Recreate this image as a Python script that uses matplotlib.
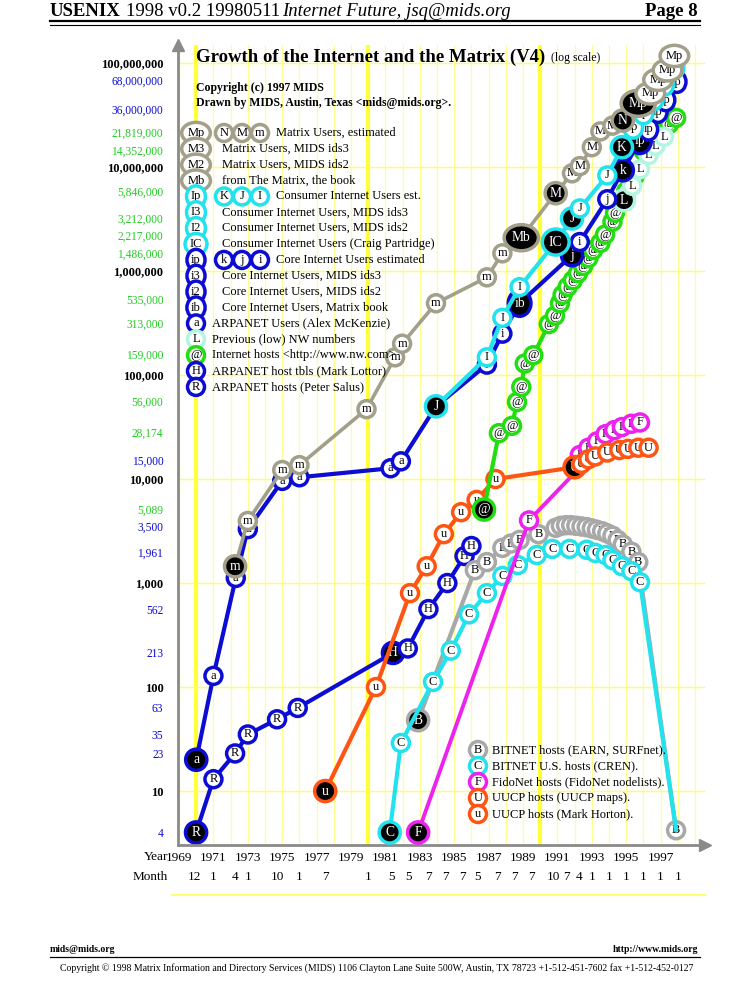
import matplotlib
matplotlib.use("Agg")
import matplotlib.pyplot as plt
from matplotlib.lines import Line2D
from matplotlib.ticker import NullLocator

plt.rcParams["font.family"] = ["Liberation Serif", "DejaVu Serif"]

# ---- data (year as decimal, value) ----
# ARPANET hosts: Peter Salus (R) then Mark Lottor host tables (H)
arpa_year = [1969.99, 1971.0, 1972.26, 1973.0, 1974.7, 1975.9, 1981.44, 1982.3, 1983.5, 1984.6, 1985.6, 1986.0]
arpa_val = [4, 13, 23, 35, 49, 63, 213, 235, 562, 1000, 1820, 2270]
arpa_tag = ["R", "R", "R", "R", "R", "R", "H", "H", "H", "H", "H", "H"]
arpa_black = [1, 0, 0, 0, 0, 0, 1, 0, 0, 0, 0, 0]

# BITNET hosts (EARN, SURFnet)
bit_year = [1982.9, 1986.2, 1986.9, 1987.8, 1988.3, 1988.8, 1989.9, 1990.9, 1991.2, 1991.5, 1991.8,
            1992.1, 1992.4, 1992.7, 1993.0, 1993.3, 1993.6, 1993.9, 1994.2, 1994.5, 1994.8, 1995.3,
            1995.7, 1997.9]
bit_val = [48, 1330, 1590, 2180, 2400, 2600, 2950, 3400, 3550, 3600, 3600, 3550, 3500, 3450, 3350,
           3250, 3150, 3000, 2850, 2600, 2350, 2000, 1590, 4.2]
bit_tag = ["B"] * 24
bit_black = [1] + [0] * 23

# BITNET U.S. hosts (CREN)
cren_year = [1981.25, 1981.9, 1983.77, 1984.8, 1985.86, 1986.9, 1987.8, 1988.7, 1989.8, 1990.7,
             1991.7, 1992.7, 1993.2, 1993.8, 1994.2, 1994.75, 1995.3, 1995.8, 1997.9]
cren_val = [4, 29, 112, 224, 500, 800, 1170, 1490, 1860, 2130, 2130, 2090, 1950, 1860, 1660, 1450,
            1300, 1020, 4.2]
cren_tag = ["C"] * 18 + [""]
cren_black = [1] + [0] * 18

# FidoNet hosts
fido_year = [1982.9, 1989.35, 1991.9, 1992.3, 1992.8, 1993.3, 1993.8, 1994.3, 1994.75, 1995.3, 1995.8]
fido_val = [4, 4000, 11000, 17000, 20000, 23000, 27000, 29500, 31600, 34000, 35000]
fido_tag = ["F", "F", "", "F", "F", "F", "F", "F", "F", "F", "F"]
fido_black = [1, 0, 0, 0, 0, 0, 0, 0, 0, 0, 0]

# UUCP hosts: Mark Horton (u) then UUCP maps (U)
uucp_year = [1977.5, 1980.45, 1982.43, 1983.4, 1984.4, 1985.4, 1986.3, 1987.4, 1992.0, 1992.4,
             1992.8, 1993.2, 1993.9, 1994.6, 1995.1, 1995.7, 1996.3]
uucp_val = [10, 100, 800, 1450, 2950, 4800, 6300, 10000, 13000, 14000, 15500, 16500, 18000, 19000,
            19500, 20000, 20000]
uucp_tag = ["u"] * 8 + ["U"] * 9
uucp_black = [1, 0, 0, 0, 0, 0, 0, 0, 1, 0, 0, 0, 0, 0, 0, 0, 0]

# Internet hosts (nw.com)
host_year = [1986.73, 1987.6, 1988.36, 1988.65, 1988.9, 1989.1, 1989.6, 1990.5, 1990.86, 1991.15,
             1991.3, 1991.6, 1991.9, 1992.2, 1992.5, 1992.8, 1993.07, 1993.5, 1993.77, 1994.2,
             1994.35, 1995.0, 1995.5, 1996.0, 1996.5, 1997.0, 1997.5, 1997.9]
host_val = [5089, 27600, 32500, 55000, 76700, 129000, 155000, 309000, 372000, 490000, 590000, 705000,
            815000, 955000, 1120000, 1330000, 1590000, 1860000, 2240000, 2980000, 3630000, 5846000,
            8200000, 14352000, 16700000, 21819000, 26000000, 29700000]
host_tag = ["@"] * 28
host_black = [1] + [0] * 27

# Previous (low) NW numbers
low_year = [1994.87, 1995.35, 1995.8, 1996.3, 1996.7, 1997.2]
low_val = [4800000, 6600000, 9500000, 13000000, 16000000, 19500000]
low_tag = ["L"] * 6
low_black = [1, 0, 0, 0, 0, 0]

# ARPANET users (a) then Core Internet users (i, ib, j, k, ip)
core_year = [1970.0, 1971.0, 1972.3, 1973.0, 1975.0, 1976.0, 1981.3, 1981.9, 1983.94, 1986.9, 1987.8,
             1988.8, 1991.85, 1992.3, 1993.9, 1994.8, 1995.8, 1996.3, 1996.85, 1997.3, 1997.95]
core_val = [20, 128, 1120, 3300, 9600, 10400, 12700, 14800, 50000, 126000, 250000, 490000, 1420000,
            1900000, 4900000, 9300000, 18000000, 23000000, 34000000, 44000000, 66000000]
core_tag = ["a", "a", "a", "a", "a", "a", "a", "a", "", "i", "i", "ib", "j", "i", "j", "k", "ip", "ip",
            "ip", "ip", "ip"]
core_black = [1, 0, 0, 0, 0, 0, 0, 0, 0, 0, 0, 1, 1, 0, 0, 1, 1, 0, 0, 0, 0]

# Consumer Internet users
cons_year = [1983.94, 1986.9, 1987.8, 1988.8, 1990.9, 1991.85, 1992.3, 1993.9, 1994.75, 1995.4, 1996.0,
             1996.6, 1997.2, 1997.8]
cons_val = [50000, 148000, 355000, 700000, 1900000, 3200000, 4000000, 8300000, 15500000, 24000000,
            33000000, 45000000, 62000000, 90000000]
cons_tag = ["J", "I", "I", "I", "IC", "J", "J", "J", "K", "Ip", "Ip", "Ip", "Ip", "Ip"]
cons_black = [1, 0, 0, 0, 1, 1, 0, 0, 1, 0, 0, 0, 0, 0]

# Matrix users
mat_year = [1972.26, 1973.0, 1975.0, 1976.0, 1979.9, 1981.56, 1981.97, 1983.94, 1986.9, 1987.8, 1988.9,
            1990.9, 1991.85, 1992.3, 1993.0, 1993.5, 1994.2, 1994.8, 1995.7, 1996.4, 1996.85, 1997.4,
            1997.8]
mat_val = [1450, 3950, 12200, 13600, 47000, 148000, 200000, 490000, 870000, 1480000, 2090000, 5600000,
           8700000, 10200000, 15500000, 22000000, 25000000, 28000000, 41000000, 51000000, 69000000,
           85000000, 117000000]
mat_tag = ["m"] * 10 + ["Mb", "M", "M", "M", "M", "M", "M", "N", "Mp", "Mp", "Mp", "Mp", "Mp"]
mat_black = [1, 0, 0, 0, 0, 0, 0, 0, 0, 0, 1, 1, 0, 0, 0, 0, 0, 1, 1, 0, 0, 0, 0]

# axis labels
ytick_vals = [1e8, 68000000, 36000000, 21819000, 14352000, 1e7, 5846000, 3212000, 2217000, 1486000,
              1e6, 535000, 313000, 159000, 1e5, 56000, 28174, 15000, 1e4, 5089, 3500, 1961, 1000, 562,
              213, 100, 63, 35, 23, 10, 4]
ytick_kind = ["d", "b", "b", "g", "g", "d", "g", "g", "g", "g", "d", "g", "g", "g", "d", "g", "g", "b",
              "d", "g", "b", "b", "d", "b", "b", "d", "b", "b", "b", "d", "b"]
year_ticks = list(range(1969, 1998, 2))
month_pos = [1969.92, 1971.0, 1972.25, 1973.0, 1974.75, 1976.0, 1977.5, 1980.0, 1981.33, 1982.33,
             1983.5, 1984.5, 1985.5, 1986.33, 1987.5, 1988.5, 1989.5, 1990.75, 1991.5, 1992.25,
             1993.0, 1994.0, 1995.0, 1996.0, 1997.0, 1998.0]
month_text = ["12", "1", "4", "1", "10", "1", "7", "1", "5", "5", "7", "7", "7", "5", "7", "7", "7",
              "10", "7", "4", "1", "1", "1", "1", "1", "1"]

GRAYM = "#a29f8a"
CYAN = "#22e2ee"
BLUE = "#0c0cd2"
GREEN = "#22dd11"
PALE = "#b4f5e2"
BGRAY = "#a8a8a8"
MAGENTA = "#ee22ee"
ORANGE = "#ff5514"

top_legend = [
    (["Mp", "N", "M", "m"], GRAYM, "Matrix Users, estimated"),
    (["M3"], GRAYM, "Matrix Users, MIDS ids3"),
    (["M2"], GRAYM, "Matrix Users, MIDS ids2"),
    (["Mb"], GRAYM, "from The Matrix, the book"),
    (["Ip", "K", "J", "I"], CYAN, "Consumer Internet Users est."),
    (["I3"], CYAN, "Consumer Internet Users, MIDS ids3"),
    (["I2"], CYAN, "Consumer Internet Users, MIDS ids2"),
    (["IC"], CYAN, "Consumer Internet Users (Craig Partridge)"),
    (["ip", "k", "j", "i"], BLUE, "Core Internet Users estimated"),
    (["i3"], BLUE, "Core Internet Users, MIDS ids3"),
    (["i2"], BLUE, "Core Internet Users, MIDS ids2"),
    (["ib"], BLUE, "Core Internet Users, Matrix book"),
    (["a"], BLUE, "ARPANET Users (Alex McKenzie)"),
    (["L"], PALE, "Previous (low) NW numbers"),
    (["@"], GREEN, "Internet hosts <http://www.nw.com>"),
    (["H"], BLUE, "ARPANET host tbls (Mark Lottor)"),
    (["R"], BLUE, "ARPANET hosts (Peter Salus)"),
]
bottom_legend = [
    ("B", BGRAY, "BITNET hosts (EARN, SURFnet)."),
    ("C", CYAN, "BITNET U.S. hosts (CREN)."),
    ("F", MAGENTA, "FidoNet hosts (FidoNet nodelists)."),
    ("U", ORANGE, "UUCP hosts (UUCP maps)."),
    ("u", ORANGE, "UUCP hosts (Mark Horton)."),
]

W, H = 750, 1000
fig = plt.figure(figsize=(7.5, 10), dpi=100)
fig.patch.set_facecolor("white")


def fx(px):
    return px / W


def fy(py):
    return 1 - py / H


ax = fig.add_axes([fx(178), fy(845), (705 - 178) / W, (845 - 45) / H])
ax.set_yscale("log")
ax.set_xlim(1968.94, 1999.58)
ax.set_ylim(3.03, 1.49e8)


def badge(x, y, s, color, black=False, z=5, tr=None, fs=9):
    if not s:
        return
    if black:
        style = "circle,pad=0.3" if len(s) == 1 else "ellipse,pad=0.2"
    else:
        style = "circle,pad=0.2" if len(s) == 1 else "ellipse,pad=0.12"
    ax.text(x, y, s, transform=tr if tr is not None else ax.transData, ha="center", va="center",
            fontsize=fs + (0.8 if black else 0), color="white" if black else "black", zorder=z,
            clip_on=False,
            bbox=dict(boxstyle=style, fc="black" if black else "white", ec=color, lw=2.5))


# grid
for yr in range(1969, 2000):
    if yr % 10 == 0:
        ax.axvline(yr, color="#ffff3a", lw=3, zorder=0)
    else:
        ax.axvline(yr, color="#ffff90", lw=0.9, zorder=0)
for k in range(1, 9):
    ax.axhline(10 ** k, color="#ffff60", lw=1, zorder=0)

for s in ["top", "right"]:
    ax.spines[s].set_visible(False)
for s in ["left", "bottom"]:
    ax.spines[s].set_color("#8a8a8a")
    ax.spines[s].set_linewidth(2)
ax.plot([0], [1.0], marker="^", ms=9, color="#8a8a8a", transform=ax.transAxes, clip_on=False)
ax.plot([1.0], [0], marker=">", ms=9, color="#8a8a8a", transform=ax.transAxes, clip_on=False)

# series
series = [
    (arpa_year, arpa_val, arpa_tag, arpa_black, BLUE, 3.0),
    (bit_year, bit_val, bit_tag, bit_black, BGRAY, 3.0),
    (cren_year, cren_val, cren_tag, cren_black, CYAN, 3.0),
    (fido_year, fido_val, fido_tag, fido_black, MAGENTA, 2.8),
    (uucp_year, uucp_val, uucp_tag, uucp_black, ORANGE, 3.0),
    (host_year, host_val, host_tag, host_black, GREEN, 3.0),
    (low_year, low_val, low_tag, low_black, PALE, 2.5),
    (core_year, core_val, core_tag, core_black, BLUE, 3.0),
    (cons_year, cons_val, cons_tag, cons_black, CYAN, 3.0),
    (mat_year, mat_val, mat_tag, mat_black, GRAYM, 2.6),
]
for i, (xs, ys, tags, blk, col, lw) in enumerate(series):
    ax.plot(xs, ys, color=col, lw=lw, zorder=2 + i, solid_capstyle="round")
    for x, y, t, b in zip(xs, ys, tags, blk):
        badge(x, y, t, col, black=bool(b), z=2.5 + i)

# ticks
ax.set_yticks(ytick_vals, labels=[f"{v:,.0f}" for v in ytick_vals])
ax.yaxis.set_minor_locator(NullLocator())
ax.tick_params(axis="y", length=0, pad=10.5)
for lab, kind in zip(ax.get_yticklabels(), ytick_kind):
    if kind == "d":
        lab.set_fontweight("bold")
        lab.set_fontsize(9)
        lab.set_color("black")
    else:
        lab.set_fontsize(8.3)
        lab.set_color(BLUE if kind == "b" else "#22cc22")

ax.set_xticks(year_ticks, labels=[str(y) for y in year_ticks])
ax.xaxis.set_minor_locator(NullLocator())
ax.tick_params(axis="x", length=0, pad=5, labelsize=9.5)
for mx, mt in zip(month_pos, month_text):
    ax.text(mx, -0.04, mt, transform=ax.get_xaxis_transform(), ha="center", va="center", fontsize=9.5)
fig.text(fx(168), fy(857), "Year", ha="right", va="center", fontsize=9.5)
fig.text(fx(168), fy(877), "Month", ha="right", va="center", fontsize=9.5)
fig.add_artist(Line2D([fx(172), fx(705)], [fy(895), fy(895)], color="#ffff70", lw=1.5))

# title block
rend = fig.canvas.get_renderer()
t = fig.text(fx(196), fy(57), "Growth of the Internet and the Matrix (V4)", fontsize=13.5,
             fontweight="bold", va="center")
x1 = t.get_window_extent(rend).x1
fig.text(fx(x1 + 6), fy(58), "(log scale)", fontsize=8.5, va="center")
fig.text(fx(196), fy(88), "Copyright (c) 1997 MIDS", fontsize=8.5, fontweight="bold", va="center")
fig.text(fx(196), fy(103), "Drawn by MIDS, Austin, Texas <mids@mids.org>.", fontsize=8.5,
         fontweight="bold", va="center")

# legends
for i, (tags, col, txt) in enumerate(top_legend):
    y = 133 + i * 15.87
    base = 196 + 10 * (len(tags[0]) - 1)
    for j, tg in enumerate(tags):
        bx = 196 if j == 0 else base + 18 * j
        badge(fx(bx), fy(y), tg, col, tr=fig.transFigure, z=40, fs=9)
    tx = base + 18 * (len(tags) - 1) + 16
    fig.text(fx(tx), fy(y), txt, fontsize=9, va="center", zorder=41)
for i, (tg, col, txt) in enumerate(bottom_legend):
    y = 750 + i * 16
    badge(fx(478), fy(y), tg, col, tr=fig.transFigure, z=40, fs=9)
    fig.text(fx(492), fy(y), txt, fontsize=9, va="center", zorder=41)

# page header
t1 = fig.text(fx(50), fy(11), "USENIX", fontsize=13.5, fontweight="bold", va="center")
x1 = t1.get_window_extent(rend).x1
t2 = fig.text(fx(x1 + 5), fy(11), "1998 v0.2 19980511", fontsize=13.5, va="center")
x1 = t2.get_window_extent(rend).x1
fig.text(fx(x1 + 2), fy(11), "Internet Future, jsq@mids.org", fontsize=13.5, fontstyle="italic",
         va="center")
fig.text(fx(698), fy(11), "Page 8", fontsize=13.5, fontweight="bold", va="center", ha="right")
fig.add_artist(Line2D([fx(50), fx(700)], [fy(21), fy(21)], color="black", lw=1.6))
fig.add_artist(Line2D([fx(50), fx(700)], [fy(25), fy(25)], color="black", lw=0.8))

# page footer
fig.text(fx(50), fy(949), "mids@mids.org", fontsize=7, fontweight="bold", va="center")
fig.text(fx(698), fy(949), "http://www.mids.org", fontsize=7, fontweight="bold", va="center",
         ha="right")
fig.add_artist(Line2D([fx(50), fx(700)], [fy(957), fy(957)], color="black", lw=0.9))
fig.text(fx(377), fy(968), "Copyright \u00a9 1998 Matrix Information and Directory Services (MIDS) "
         "1106 Clayton Lane Suite 500W, Austin, TX 78723 +1-512-451-7602 fax +1-512-452-0127",
         fontsize=7, va="center", ha="center")

fig.savefig("out.png", dpi=100, facecolor="white")
